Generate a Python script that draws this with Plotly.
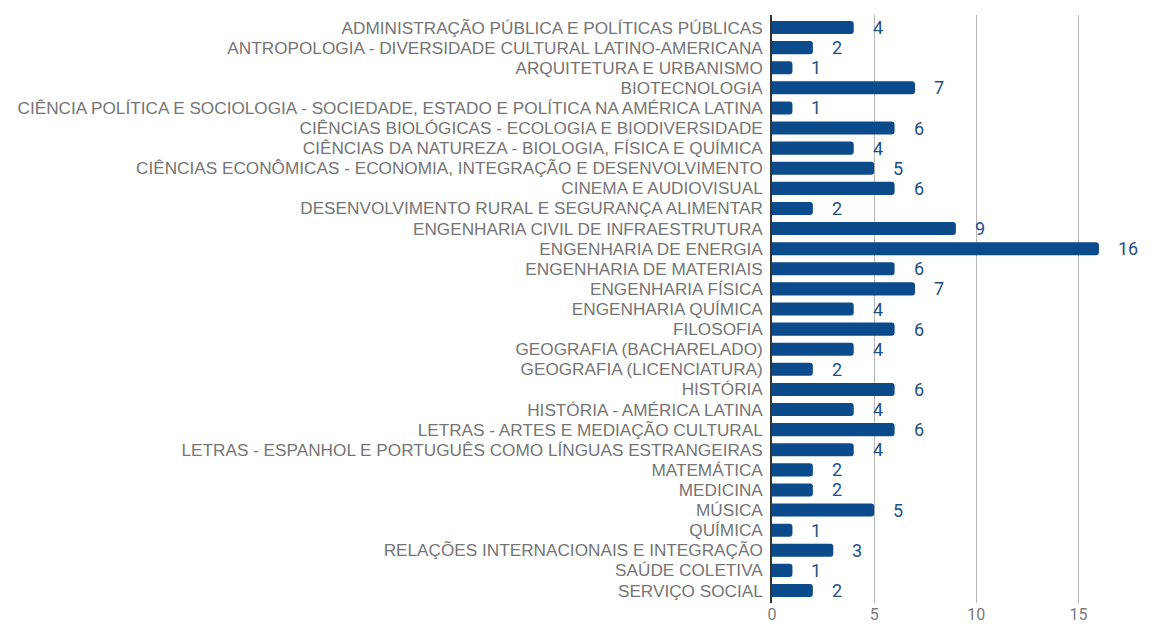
import plotly.graph_objects as go

categories = [
    "ADMINISTRAÇÃO PÚBLICA E POLÍTICAS PÚBLICAS",
    "ANTROPOLOGIA - DIVERSIDADE CULTURAL LATINO-AMERICANA",
    "ARQUITETURA E URBANISMO",
    "BIOTECNOLOGIA",
    "CIÊNCIA POLÍTICA E SOCIOLOGIA - SOCIEDADE, ESTADO E POLÍTICA NA AMÉRICA LATINA",
    "CIÊNCIAS BIOLÓGICAS - ECOLOGIA E BIODIVERSIDADE",
    "CIÊNCIAS DA NATUREZA - BIOLOGIA, FÍSICA E QUÍMICA",
    "CIÊNCIAS ECONÔMICAS - ECONOMIA, INTEGRAÇÃO E DESENVOLVIMENTO",
    "CINEMA E AUDIOVISUAL",
    "DESENVOLVIMENTO RURAL E SEGURANÇA ALIMENTAR",
    "ENGENHARIA CIVIL DE INFRAESTRUTURA",
    "ENGENHARIA DE ENERGIA",
    "ENGENHARIA DE MATERIAIS",
    "ENGENHARIA FÍSICA",
    "ENGENHARIA QUÍMICA",
    "FILOSOFIA",
    "GEOGRAFIA (BACHARELADO)",
    "GEOGRAFIA (LICENCIATURA)",
    "HISTÓRIA",
    "HISTÓRIA - AMÉRICA LATINA",
    "LETRAS - ARTES E MEDIAÇÃO CULTURAL",
    "LETRAS - ESPANHOL E PORTUGUÊS COMO LÍNGUAS ESTRANGEIRAS",
    "MATEMÁTICA",
    "MEDICINA",
    "MÚSICA",
    "QUÍMICA",
    "RELAÇÕES INTERNACIONAIS E INTEGRAÇÃO",
    "SAÚDE COLETIVA",
    "SERVIÇO SOCIAL",
]
values = [4, 2, 1, 7, 1, 6, 4, 5, 6, 2, 9, 16, 6, 7, 4, 6, 4, 2, 6, 4, 6, 4, 2, 2, 5, 1, 3, 1, 2]
x_ticks = [0, 5, 10, 15]

BAR = "#0b4a8b"

fig = go.Figure()
fig.add_trace(go.Bar(
    y=categories, x=values, orientation="h",
    marker=dict(color=BAR, line=dict(width=0), cornerradius=3),
    hoverinfo="x+y",
))

annotations = [
    dict(x=v, y=c, text=str(v), xref="x", yref="y", showarrow=False,
         xanchor="left", yanchor="middle", xshift=17,
         font=dict(family="Roboto, sans-serif", size=18, color="#1f4e85"))
    for c, v in zip(categories, values)
]

fig.update_layout(
    width=1169, height=626,
    margin=dict(l=764, r=27, t=7, b=31, autoexpand=False),
    paper_bgcolor="white", plot_bgcolor="white",
    showlegend=False,
    bargap=0.35,
    annotations=annotations,
    font=dict(family="Liberation Sans, Arial, sans-serif", color="#757575"),
)
fig.update_xaxes(
    range=[0, 18.5], tickvals=x_ticks, showgrid=True, gridcolor="#b7b7b7", gridwidth=1,
    zeroline=False, showline=False, tickfont=dict(family="Roboto, sans-serif", size=16, color="#7a7a7a"),
    ticks="", fixedrange=True, automargin=False,
)
fig.update_yaxes(
    categoryorder="array", categoryarray=categories, autorange="reversed",
    tickmode="linear", tick0=0, dtick=1,
    showline=True, linecolor="#333333", linewidth=1.5,
    tickfont=dict(size=17.2, color="#757575"), ticks="", ticklabelstandoff=4,
    showgrid=False, automargin=False,
)

fig.write_html("out.html")
